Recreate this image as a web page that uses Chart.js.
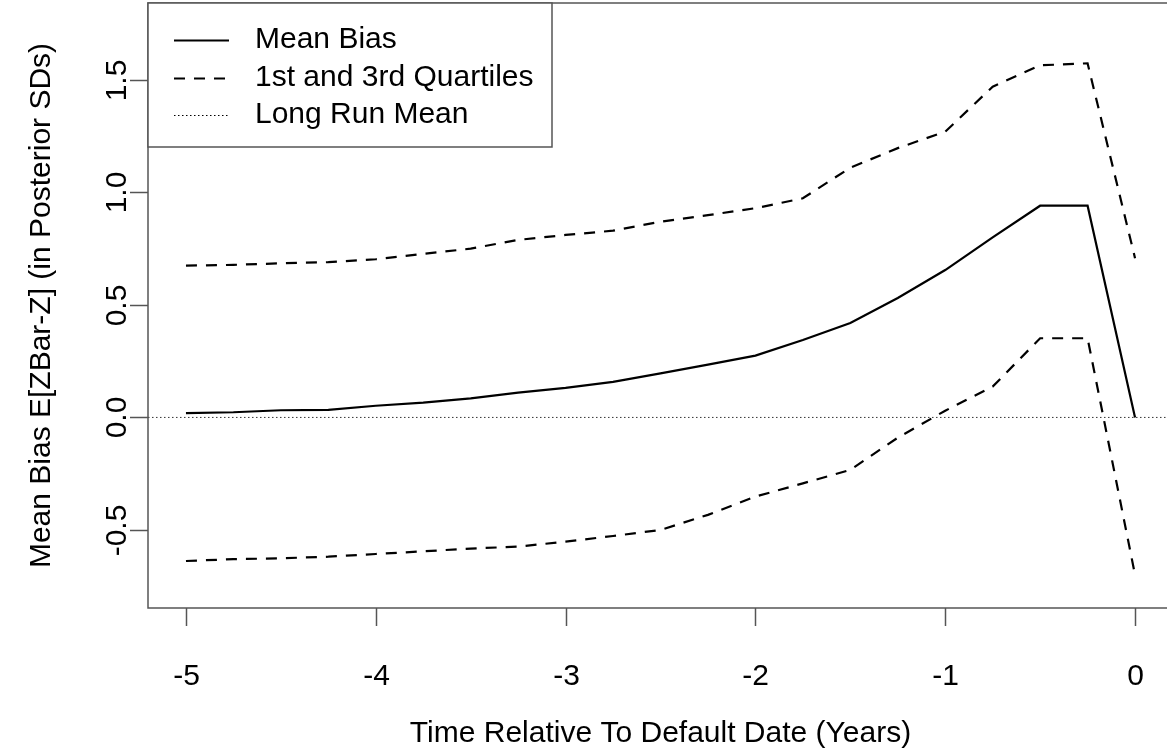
<!DOCTYPE html>
<html>
<head>
<meta charset="utf-8">
<script src="https://cdn.jsdelivr.net/npm/chart.js@4.4.1/dist/chart.umd.min.js"></script>
<style>
  html, body { margin: 0; padding: 0; background: #fff; overflow: hidden; }
  #wrap { position: absolute; left: 0; top: 0; width: 1180px; height: 755px; }
</style>
</head>
<body>
<div id="wrap"><canvas id="biasChart"></canvas></div>
<script>
// years relative to default, quarterly
const time = [-5, -4.75, -4.5, -4.25, -4, -3.75, -3.5, -3.25, -3, -2.75, -2.5,
              -2.25, -2, -1.75, -1.5, -1.25, -1, -0.75, -0.5, -0.25, 0];
const meanBias = [0.019, 0.023, 0.032, 0.034, 0.052, 0.066, 0.085, 0.11, 0.131, 0.158, 0.196,
                  0.235, 0.275, 0.344, 0.42, 0.531, 0.655, 0.80, 0.941, 0.941, 0.0];
const upperQ = [0.675, 0.678, 0.685, 0.69, 0.703, 0.727, 0.75, 0.789, 0.811, 0.83, 0.87,
                0.899, 0.93, 0.974, 1.11, 1.197, 1.27, 1.47, 1.565, 1.574, 0.708];
const lowerQ = [-0.638, -0.630, -0.626, -0.619, -0.607, -0.595, -0.583, -0.574, -0.552, -0.527, -0.5,
                -0.433, -0.352, -0.293, -0.233, -0.09, 0.03, 0.137, 0.352, 0.352, -0.70];
const longRunMean = 0;

const xTicks = [-5, -4, -3, -2, -1, 0];
const yTicks = [-0.5, 0.0, 0.5, 1.0, 1.5];
const yTickLabels = ['-0.5', '0.0', '0.5', '1.0', '1.5'];
const xRange = [-5.2, 0.2];
const yRange = [-0.847, 1.842];

const legendItems = ['Mean Bias', '1st and 3rd Quartiles', 'Long Run Mean'];
const xTitle = 'Time Relative To Default Date (Years)';
const yTitle = 'Mean Bias E[ZBar-Z] (in Posterior SDs)';

const FONT = '"Liberation Sans", Arial, sans-serif';
const axisColor = '#555';

function pts(ys) { return time.map((t, i) => ({ x: t, y: ys[i] })); }

// R-style box, ticks, labels and legend
const rFrame = {
  id: 'rFrame',
  afterDraw(chart) {
    const { ctx, chartArea: a, scales: { x, y } } = chart;
    ctx.save();
    ctx.strokeStyle = axisColor;
    ctx.lineWidth = 1.5;
    ctx.strokeRect(a.left, a.top, a.right - a.left, a.bottom - a.top);

    ctx.fillStyle = '#000';
    ctx.font = '30px ' + FONT;
    ctx.textAlign = 'center';
    ctx.textBaseline = 'middle';
    xTicks.forEach(v => {
      const px = Math.round(x.getPixelForValue(v)) + 0.5;
      ctx.beginPath();
      ctx.moveTo(px, a.bottom);
      ctx.lineTo(px, a.bottom + 18);
      ctx.stroke();
      ctx.fillText(String(v), px, 677);
    });
    yTicks.forEach((v, i) => {
      const py = Math.round(y.getPixelForValue(v)) + 0.5;
      ctx.beginPath();
      ctx.moveTo(a.left, py);
      ctx.lineTo(a.left - 18, py);
      ctx.stroke();
      ctx.save();
      ctx.translate(118, py);
      ctx.rotate(-Math.PI / 2);
      ctx.fillText(yTickLabels[i], 0, 0);
      ctx.restore();
    });

    ctx.fillText(xTitle, (a.left + a.right) / 2, 734);
    ctx.save();
    ctx.translate(42, (a.top + a.bottom) / 2);
    ctx.rotate(-Math.PI / 2);
    ctx.fillText(yTitle, 0, 0);
    ctx.restore();

    // legend box
    const lx = a.left, ly = a.top, lw = 404, lh = 144;
    ctx.fillStyle = '#fff';
    ctx.fillRect(lx, ly, lw, lh);
    ctx.strokeStyle = axisColor;
    ctx.strokeRect(lx, ly, lw, lh);
    const dashes = [[], [11, 9], [1.5, 2.5]];
    const widths = [2.2, 2.2, 1];
    const rows = [40, 78, 115];
    ctx.textAlign = 'left';
    legendItems.forEach((txt, i) => {
      ctx.strokeStyle = '#000';
      ctx.lineWidth = widths[i];
      ctx.setLineDash(dashes[i]);
      ctx.beginPath();
      ctx.moveTo(lx + 26, rows[i] + 0.5);
      ctx.lineTo(lx + 81, rows[i] + 0.5);
      ctx.stroke();
      ctx.setLineDash([]);
      ctx.fillStyle = '#000';
      ctx.fillText(txt, lx + 107, rows[i]);
    });
    ctx.restore();
  }
};

new Chart(document.getElementById('biasChart'), {
  type: 'line',
  data: {
    datasets: [
      { label: 'Mean Bias', data: pts(meanBias), borderColor: '#000', borderWidth: 2.2 },
      { label: '3rd Quartile', data: pts(upperQ), borderColor: '#000', borderWidth: 2.2, borderDash: [11, 9] },
      { label: '1st Quartile', data: pts(lowerQ), borderColor: '#000', borderWidth: 2.2, borderDash: [11, 9] },
      { label: 'Long Run Mean', data: xRange.map(v => ({ x: v, y: longRunMean })),
        borderColor: '#333', borderWidth: 1, borderDash: [1.5, 2.5] }
    ]
  },
  options: {
    responsive: true,
    maintainAspectRatio: false,
    animation: false,
    layout: { padding: { left: 148, top: 3, right: 7, bottom: 147 } },
    elements: { point: { radius: 0 }, line: { tension: 0, fill: false } },
    plugins: { legend: { display: false }, tooltip: { enabled: false } },
    scales: {
      x: { type: 'linear', min: xRange[0], max: xRange[1], display: false },
      y: { type: 'linear', min: yRange[0], max: yRange[1], display: false }
    }
  },
  plugins: [rFrame]
});
</script>
</body>
</html>
